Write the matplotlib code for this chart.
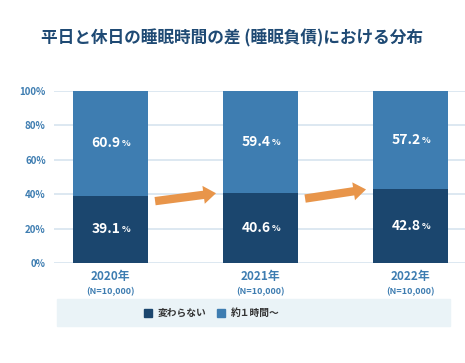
import matplotlib
matplotlib.use("Agg")
import matplotlib.pyplot as plt
from matplotlib.patches import Rectangle

plt.rcParams['font.family'] = ['Noto Sans CJK JP', 'DejaVu Sans']

title = "平日と休日の睡眠時間の差 (睡眠負債)における分布"
years = ["2020年", "2021年", "2022年"]
ns = ["(N=10,000)", "(N=10,000)", "(N=10,000)"]
same = [39.1, 40.6, 42.8]
hour = [60.9, 59.4, 57.2]
series_names = ["変わらない", "約１時間〜"]
yticks = [0, 20, 40, 60, 80, 100]

c_dark = "#1b466e"
c_light = "#3e7db1"
c_tick = "#3e7db1"
c_title = "#1f4a74"
c_grid = "#d7e4ef"
c_arrow = "#e8954a"

W, H = 465, 363
fig = plt.figure(figsize=(W / 100, H / 100), dpi=100)
ax = fig.add_axes([54 / W, 1 - 263 / H, (W - 54) / W, (263 - 90.7) / H])
ax.set_ylim(0, 100)
ax.set_xlim(-0.377, 2.363)

for v in yticks:
    ax.axhline(v, color=c_grid, lw=1.2, zorder=0)

x = list(range(len(years)))
ax.bar(x, same, width=0.5, color=c_dark, zorder=2)
ax.bar(x, hour, width=0.5, bottom=same, color=c_light, zorder=2)

def pct_label(xc, yc, val):
    t = ax.text(xc - 0.03, yc, f"{val:.1f}", ha="center", va="center",
                color="white", fontsize=10, fontweight="bold", zorder=5)
    ax.annotate("%", xy=(1, 0), xycoords=t, xytext=(0.6, 1.5), textcoords="offset points",
                ha="left", va="bottom", color="white", fontsize=6.5, fontweight="bold", zorder=5)

for i in x:
    pct_label(i, same[i] / 2, same[i])
    pct_label(i, same[i] + hour[i] / 2, hour[i])

# arrows between bars
for i in range(len(x) - 1):
    x0, x1 = i + 0.297, i + 0.703
    y0, y1 = same[i] - 3.2, same[i + 1] - 0.1
    ax.annotate("", xy=(x1, y1), xytext=(x0, y0),
                arrowprops=dict(arrowstyle="simple,head_length=0.9,head_width=1.3,tail_width=0.6",
                                color=c_arrow, lw=0, shrinkA=0, shrinkB=0), zorder=4)

ax.set_yticks(yticks)
ax.set_yticklabels([f"{v}%" for v in yticks], fontsize=7, fontweight="bold", color=c_tick)
ax.tick_params(axis="y", length=0, pad=6)
ax.set_xticks([])
for s in ax.spines.values():
    s.set_visible(False)

for i in x:
    ax.text(i, -4.3, years[i], ha="center", va="top", fontsize=8.5, color=c_tick,
            fontweight="bold")
    ax.text(i, -13.8, ns[i], ha="center", va="top", fontsize=6.5, color=c_tick,
            fontweight="bold")

fig.text(232 / W, 1 - 38 / H, title, ha="center", va="center", fontsize=12,
         fontweight="bold", color=c_title)

# legend box
fig.patches.append(Rectangle((57 / W, 1 - 326 / H), (450 - 57) / W, 27 / H,
                             transform=fig.transFigure, color="#eaf3f7", zorder=0))
ly = 1 - 313 / H
for xs, xt, c, name in [(144, 158, c_dark, series_names[0]), (217, 231, c_light, series_names[1])]:
    fig.patches.append(Rectangle((xs / W, ly - 4 / H), 8 / W, 8 / H,
                                 transform=fig.transFigure, color=c, zorder=1))
    fig.text(xt / W, ly, name, ha="left", va="center", fontsize=7, color="#333333",
             fontweight="bold")

fig.savefig("out.png", dpi=100, facecolor="white")
